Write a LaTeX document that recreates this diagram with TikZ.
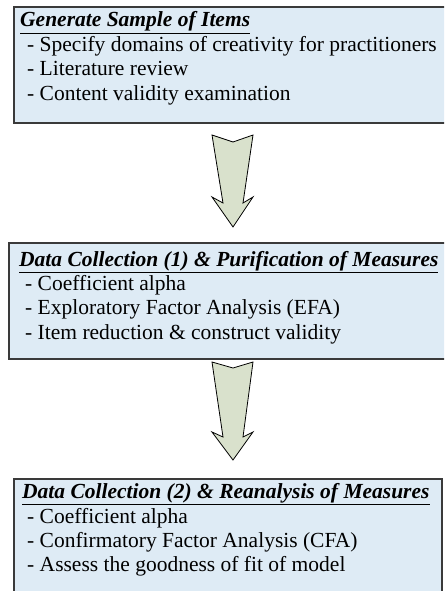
\documentclass[tikz,border=0pt]{standalone}
\usepackage{fontspec}
\setmainfont{Liberation Serif}
\definecolor{boxfill}{HTML}{DEEBF5}
\definecolor{boxline}{HTML}{3A3A3A}
\definecolor{arrowfill}{HTML}{D9E1CC}
\begin{document}
\begin{tikzpicture}[x=1pt,y=-1pt,
  stepbox/.style={draw=boxline, line width=1.8pt, fill=boxfill, inner sep=0pt, anchor=north west},
  titletext/.style={inner sep=0pt, anchor=base west, font=\fontsize{21.5}{25}\selectfont\bfseries\itshape},
  itemtext/.style={inner sep=0pt, anchor=base west, font=\fontsize{21.5}{25}\selectfont},
  blockarrow/.style={draw=black, line width=0.8pt, fill=arrowfill, line join=miter}]
\useasboundingbox (0,0) rectangle (444,591);
\clip (0,0) rectangle (444,591);
% box 1
\node[stepbox, minimum width=440pt, minimum height=116.5pt] (b1) at (13,6) {};
\node[titletext] (b1t) at (20,27) {\underline{Generate Sample of Items}};
\node[itemtext] (b1a) at (27,51.5) {- Specify domains of creativity for practitioners};
\node[itemtext] (b1b) at (27,76) {- Literature review};
\node[itemtext] (b1c) at (27,100.5) {- Content validity examination};
% arrow 1
\draw[blockarrow] (212,135) -- (233,142) -- (253,135) -- (243,203) -- (253,197)
  -- (233,227) -- (212,197) -- (223,203) -- cycle;
% box 2
\node[stepbox, minimum width=445pt, minimum height=116pt] (b2) at (8,242) {};
\node[titletext] (b2t) at (19,266) {\underline{Data Collection (1) \& Purification of Measures}};
\node[itemtext] (b2a) at (25,290) {- Coefficient alpha};
\node[itemtext] (b2b) at (25,314.5) {- Exploratory Factor Analysis (EFA)};
\node[itemtext] (b2c) at (25,339) {- Item reduction \& construct validity};
% arrow 2
\draw[blockarrow] (212,362) -- (233,368) -- (253,362) -- (243,437) -- (253,432)
  -- (233,460) -- (212,432) -- (223,437) -- cycle;
% box 3
\node[stepbox, minimum width=428pt, minimum height=130pt] (b3) at (13,478) {};
\node[titletext] (b3t) at (22,498.5) {\underline{Data Collection (2) \& Reanalysis of Measures}};
\node[itemtext] (b3a) at (27,523) {- Coefficient alpha};
\node[itemtext] (b3b) at (27,547) {- Confirmatory Factor Analysis (CFA)};
\node[itemtext] (b3c) at (27,571) {- Assess the goodness of fit of model};
\end{tikzpicture}
\end{document}
